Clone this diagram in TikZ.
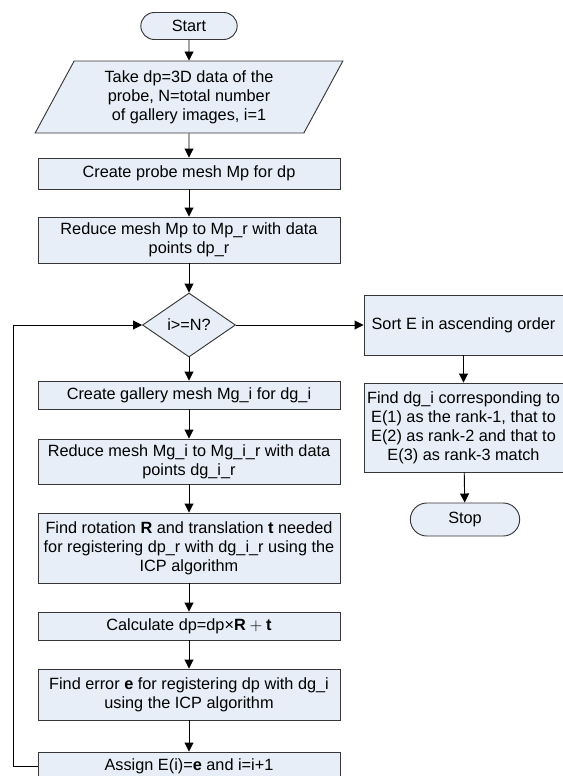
\documentclass[tikz,border=0pt]{standalone}
\usepackage{fontspec}
\setmainfont{Liberation Sans}
\usepackage{tikz}
\usetikzlibrary{
  arrows.meta,
  positioning,
  shapes.geometric,
  shapes.misc
}
\definecolor{boxfill}{RGB}{232,238,247}
\definecolor{edgecolor}{RGB}{55,55,55}

\begin{document}
\begin{tikzpicture}[
    every node/.style={font=\fontsize{13.9}{16.2}\selectfont},
    base/.style={draw=edgecolor, fill=boxfill, line width=0.8pt, align=center, inner sep=2pt},
    proc/.style={base, rectangle, minimum width=9.06cm},
    term/.style={base, rounded rectangle, minimum width=3.03cm, minimum height=0.81cm},
    io/.style={base, trapezium, trapezium left angle=63, trapezium right angle=117,
      trapezium stretches=true, minimum width=9.24cm, minimum height=2.16cm},
    dec/.style={base, diamond, inner sep=0pt, minimum width=2.79cm, minimum height=1.92cm},
    arr/.style={-{Triangle[length=0.27cm,width=0.27cm]}, line width=0.8pt}
  ]
    \useasboundingbox (0,0) rectangle (16.89,-23.28);
    \node[term] (start) at (5.67,-0.78) {Start};
    \node[io] (take) at (5.67,-2.91)
      {Take dp=3D data of the\\probe, N=total number\\of gallery images, i=1};
    \node[proc, minimum height=0.93cm] (probe) at (5.67,-5.205) {Create probe mesh Mp for dp};
    \node[proc, minimum height=1.38cm] (redp) at (5.67,-7.2)
      {Reduce mesh Mp to Mp\_r with data\\points dp\_r};
    \node[dec] (check) at (5.67,-9.75) {i>=N?};
    \node[proc, minimum height=0.84cm] (gall) at (5.67,-11.85) {Create gallery mesh Mg\_i for dg\_i};
    \node[proc, minimum height=1.35cm] (redg) at (5.67,-13.845)
      {Reduce mesh Mg\_i to Mg\_i\_r with data\\points dg\_i\_r};
    \node[proc, minimum height=2.1cm] (rot) at (5.67,-16.44)
      {Find rotation \textbf{R} and translation \textbf{t} needed\\for registering dp\_r with dg\_i\_r using the\\ICP algorithm};
    \node[proc, minimum height=0.84cm] (calc) at (5.67,-18.78)
      {Calculate dp=dp×$\mathbf{R}+\mathbf{t}$};
    \node[proc, minimum height=1.53cm] (err) at (5.67,-20.835)
      {Find error \textbf{e} for registering dp with dg\_i\\using the ICP algorithm};
    \node[proc, minimum height=0.84cm] (assign) at (5.67,-22.98) {Assign E(i)=\textbf{e} and i=i+1};
    \coordinate (back) at (0.39,-22.98);
    \node[proc, minimum width=5.97cm, minimum height=1.8cm] (sort) at (13.905,-9.75)
      {Sort E in ascending order};
    \node[proc, minimum width=5.97cm, minimum height=2.67cm] (rank) at (13.905,-12.825)
      {Find dg\_i corresponding to\\E(1) as the rank-1, that to\\E(2) as rank-2 and that to\\E(3) as rank-3 match};
    \node[term, minimum width=3.42cm, minimum height=0.99cm] (stop) at (13.95,-15.585) {Stop};
    \draw[arr] (start) -- (take);
    \draw[arr] (take) -- (probe);
    \draw[arr] (probe) -- (redp);
    \draw[arr] (redp) -- (check);
    \draw[arr] (check) -- (gall);
    \draw[arr] (gall) -- (redg);
    \draw[arr] (redg) -- (rot);
    \draw[arr] (rot) -- (calc);
    \draw[arr] (calc) -- (err);
    \draw[arr] (err) -- (assign);
    \draw[arr] (assign.west) -- (back) |- (check.west);
    \draw[arr] (check.east) -- (sort.west);
    \draw[arr] (sort) -- (rank);
    \draw[arr] (rank) -- (stop);
  \end{tikzpicture}
\end{document}
